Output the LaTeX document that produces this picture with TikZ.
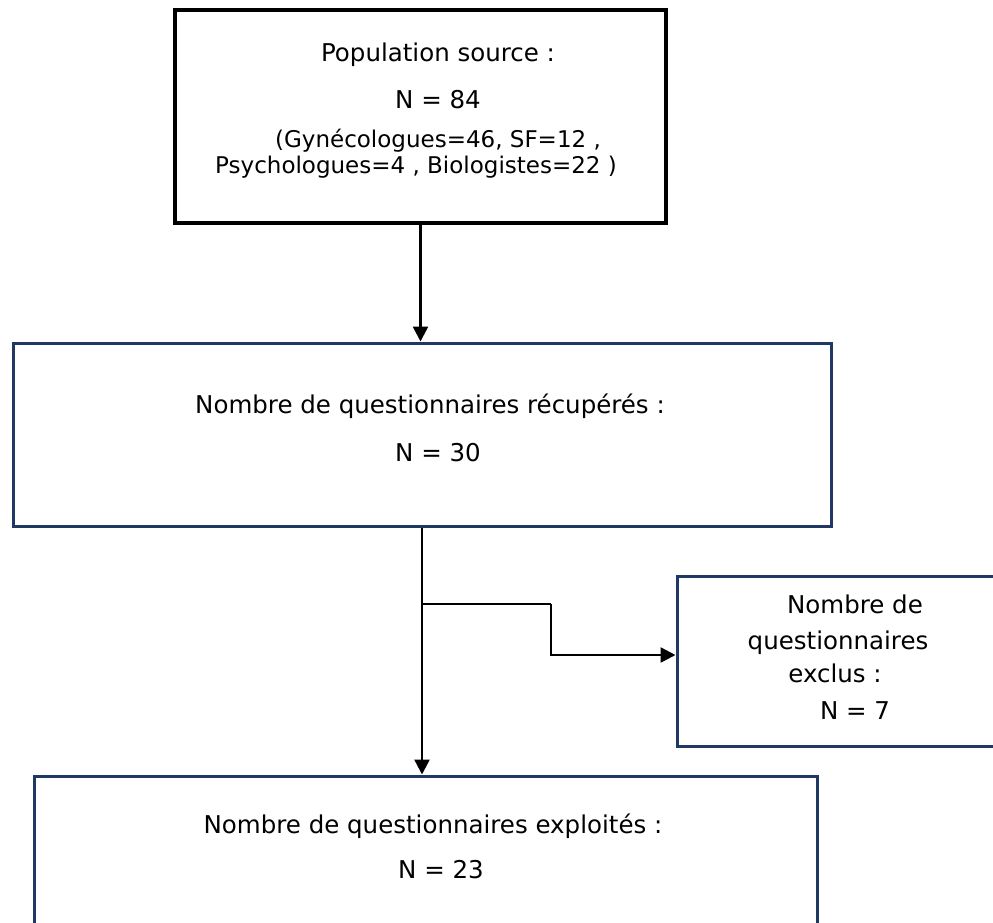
\documentclass[tikz,border=0pt]{standalone}
\usepackage{fontspec}
\setmainfont{DejaVu Sans}
\definecolor{boxnavy}{RGB}{31,56,100}
\usetikzlibrary{arrows.meta,positioning,calc}

\begin{document}
\begin{tikzpicture}[x=1pt, y=-1pt,
      box/.style={draw=boxnavy, line width=3pt, inner sep=0pt},
      lbl/.style={anchor=base, inner sep=0pt, font=\fontsize{24.5}{30}\selectfont},
      sml/.style={lbl, font=\fontsize{23}{26}\selectfont},
      arr/.style={-{Triangle[length=15pt,width=15pt]}, line width=2.5pt}
    ]
      \clip (0,0) rectangle (993,922);
      % boxes
      \node[box, draw=black, line width=3.5pt, minimum width=491pt, minimum height=213pt] (src) at (420.5,116.5) {};
      \node[box, minimum width=818pt, minimum height=183pt] (recup) at (422,434.5) {};
      \node[box, minimum width=783pt, minimum height=170pt] (expl) at (425.5,861) {};
      \node[box, minimum width=320pt, minimum height=170pt] (excl) at (837,661) {};
      % texts
      \node[lbl] (src1) at (438,61) {Population source :};
      \node[lbl] (src2) at (438,108) {N = 84};
      \node[sml] (src3) at (438,147) {(Gynécologues=46, SF=12 ,};
      \node[sml] (src4) at (416,173) {Psychologues=4 , Biologistes=22 )};
      \node[lbl] (recup1) at (430,413) {Nombre de questionnaires récupérés :};
      \node[lbl] (recup2) at (438,461) {N = 30};
      \node[lbl] (expl1) at (433,833) {Nombre de questionnaires exploités :};
      \node[lbl] (expl2) at (441,878) {N = 23};
      \node[lbl] (excl1) at (855,613) {Nombre de};
      \node[lbl] (excl2) at (838,649) {questionnaires};
      \node[lbl] (excl3) at (835,682) {exclus :};
      \node[lbl] (excl4) at (855,719) {N = 7};
      % connectors
      \draw[arr] (src.south) -- (src.south |- recup.north);
      \draw[arr] (recup.south) -- (recup.south |- expl.north);
      \coordinate (fork) at (422,604);
      \coordinate (bend) at (551,604);
      \draw[line width=2.5pt] (fork) -- (bend);
      \draw[arr] (bend) |- ([yshift=6pt]excl.west);
    \end{tikzpicture}
\end{document}
